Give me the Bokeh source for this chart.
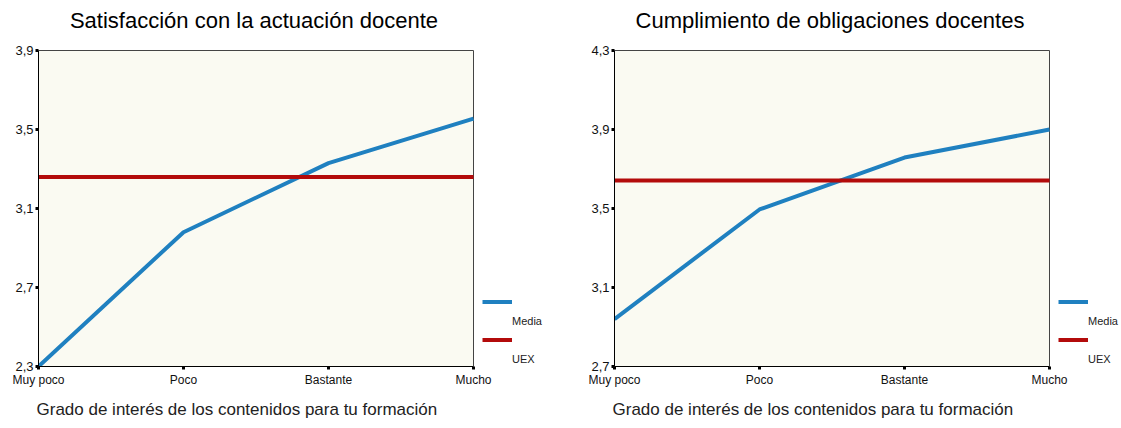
from bokeh.plotting import figure
from bokeh.models import Range1d, FixedTicker, Legend, LegendItem, Label, Title
from bokeh.layouts import row
from bokeh.embed import file_html
from bokeh.resources import INLINE

# ---- data ----
categories = ["Muy poco", "Poco", "Bastante", "Mucho"]
x_label = "Grado de interés de los contenidos para tu formación"
series_names = ["Media", "UEX"]

title1 = "Satisfacción con la actuación docente"
media1 = [2.30, 2.98, 3.33, 3.555]
uex1 = 3.26
yticks1 = [2.3, 2.7, 3.1, 3.5, 3.9]

title2 = "Cumplimiento de obligaciones docentes"
media2 = [2.94, 3.495, 3.758, 3.90]
uex2 = 3.642
yticks2 = [2.7, 3.1, 3.5, 3.9, 4.3]

BLUE = "#1F80C0"
RED = "#B30B0B"
IVORY = "#FAFAF2"
FONT = "Liberation Sans"

LEFT = 38        # border left of the plot box (px)
BOX_W = 435      # width of the plot box (px)
BOX_TOP = 50     # space above the plot box, inside the frame (px)
BOX_H = 316      # height of the plot box (px)


def make(title, media, uex, yticks, width, right_border):
    xs = list(range(len(categories)))
    frame_w = width - LEFT - right_border
    x_end = xs[-1] * frame_w / BOX_W                      # room for the legend
    y0, y1 = yticks[0], yticks[-1]
    y_end = y1 + (y1 - y0) * BOX_TOP / BOX_H              # room for the title
    p = figure(width=width, height=428, output_backend="svg", toolbar_location=None,
               x_range=Range1d(xs[0], x_end), y_range=Range1d(y0, y_end),
               min_border_left=LEFT, min_border_top=0, min_border_bottom=62,
               min_border_right=right_border, title=None)
    p.background_fill_color = "white"
    p.border_fill_color = "white"
    p.outline_line_color = None
    p.grid.visible = False

    # plot box
    p.quad(left=xs[0], right=xs[-1], bottom=y0, top=y1,
           fill_color=IVORY, line_color="#444444", line_width=1)

    r1 = p.line(xs, media, line_color=BLUE, line_width=4)
    r2 = p.line(xs, [uex] * len(xs), line_color=RED, line_width=4)
    blank = p.line(x=[], y=[], line_alpha=0)

    # title
    p.add_layout(Label(x=(xs[0] + xs[-1]) / 2, y=y_end, y_offset=-20, x_offset=-2,
                       text=title, text_align="center", text_baseline="middle",
                       text_font=FONT, text_font_size="22px", text_color="black"))

    for ax in (p.xaxis[0], p.yaxis[0]):
        ax.axis_line_color = "black"
        ax.axis_line_width = 1
        ax.major_tick_in = 0
        ax.major_tick_out = 3
        ax.major_tick_line_width = 3
        ax.major_tick_line_color = "black"
        ax.minor_tick_line_color = None
        ax.major_label_text_font = FONT
        ax.major_label_text_color = "#111111"

    p.xaxis.bounds = (xs[0], xs[-1])
    p.xaxis.ticker = FixedTicker(ticks=xs)
    p.xaxis.major_label_overrides = {i: c for i, c in zip(xs, categories)}
    p.xaxis.major_label_text_font_size = "12px"
    p.xaxis.major_label_standoff = 3

    p.yaxis.bounds = (y0, y1)
    p.yaxis.ticker = FixedTicker(ticks=yticks)
    p.yaxis.major_label_overrides = {t: f"{t:.1f}".replace(".", ",") for t in yticks}
    p.yaxis.major_label_text_font_size = "13px"
    p.yaxis.major_label_standoff = 2

    # x-axis title, left aligned under the box
    p.add_layout(Title(text=x_label, align="left", vertical_align="bottom", text_font=FONT,
                       text_font_size="17px", text_font_style="normal",
                       text_color="#222222", standoff=16, offset=-2),
                 "below")

    legend = Legend(items=[LegendItem(label=" ", renderers=[r1]),
                           LegendItem(label=series_names[0], renderers=[blank]),
                           LegendItem(label=" ", renderers=[r2]),
                           LegendItem(label=series_names[1], renderers=[blank])],
                    location=(444, 1), glyph_width=30, glyph_height=13, label_height=13,
                    spacing=6, padding=0, margin=0, border_line_color=None,
                    background_fill_color=None, label_text_font=FONT,
                    label_text_font_size="11px", label_standoff=-4,
                    label_text_color="#222222")
    p.add_layout(legend)
    return p


p1 = make(title1, media1, uex1, yticks1, 576, 5)
p2 = make(title2, media2, uex2, yticks2, 545, 0)
layout = row(p1, p2)

open("out.html", "w").write(file_html(layout, INLINE))
